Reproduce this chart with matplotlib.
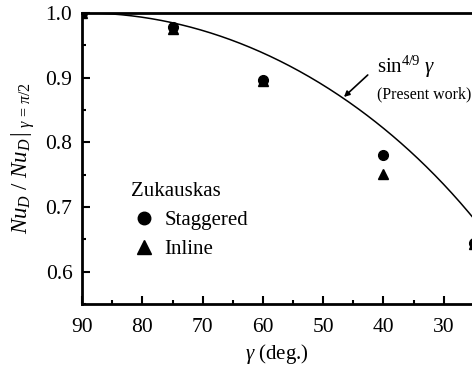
import numpy as np
import matplotlib
matplotlib.use("Agg")
import matplotlib.pyplot as plt
from matplotlib.ticker import MultipleLocator
from matplotlib.lines import Line2D

plt.rcParams.update({
    "font.family": "serif",
    "font.serif": ["Liberation Serif", "DejaVu Serif"],
    "mathtext.fontset": "custom",
    "mathtext.rm": "Liberation Serif",
    "mathtext.it": "Liberation Serif:italic",
    "mathtext.bf": "Liberation Serif:bold",
})

# Zukauskas data
gamma_pts = [90, 75, 60, 40, 25]
staggered = [1.0, 0.978, 0.896, 0.780, 0.645]
inline = [1.0, 0.975, 0.894, 0.751, 0.642]

# present work curve: sin^(4/9) gamma
gamma_curve = np.linspace(90, 20, 300)
nu_curve = np.sin(np.radians(gamma_curve)) ** (4.0 / 9.0)

fig = plt.figure(figsize=(4.72, 3.68), dpi=100)
ax = fig.add_axes([0.174, 0.174, 0.826, 0.791])

ax.plot(gamma_curve, nu_curve, color="black", linewidth=1.1, zorder=2)
ax.plot(gamma_pts, staggered, "o", color="black", markersize=7, zorder=3)
ax.plot(gamma_pts, inline, "^", color="black", markersize=7.5, zorder=3)

ax.set_xlim(90, 25.3)
ax.set_ylim(0.55, 1.0)
ax.xaxis.set_major_locator(MultipleLocator(10))
ax.xaxis.set_minor_locator(MultipleLocator(5))
ax.yaxis.set_major_locator(MultipleLocator(0.1))
ax.yaxis.set_minor_locator(MultipleLocator(0.05))
ax.yaxis.set_major_formatter(plt.FormatStrFormatter("%.1f"))
ax.tick_params(which="both", direction="in", labelsize=15.5, width=1.5)
ax.tick_params(which="major", length=6)
ax.tick_params(which="minor", length=3)
ax.tick_params(axis="x", pad=10)
ax.tick_params(axis="y", pad=7)

for s in ["left", "bottom", "top"]:
    ax.spines[s].set_linewidth(2.0)
ax.spines["right"].set_visible(False)

ax.set_xlabel(r"$\gamma$ (deg.)", fontsize=15, labelpad=4)
ax.set_ylabel(r"$Nu_D\ /\ Nu_D\,|_{\ \gamma\,=\,\pi/2}$", fontsize=16.5, labelpad=6)

ax.annotate("", xy=(46.55, 0.870), xytext=(42.6, 0.904),
            arrowprops=dict(arrowstyle="-|>", color="black", lw=1.2,
                            mutation_scale=8, shrinkA=0, shrinkB=0))
ax.text(41.1, 0.916, r"sin$^{4/9}$ $\gamma$", fontsize=15, va="center", ha="left")
ax.text(41.1, 0.874, "(Present work)", fontsize=11.5, va="center", ha="left")

handles = [
    Line2D([], [], marker="o", color="black", linestyle="none", markersize=9),
    Line2D([], [], marker="^", color="black", linestyle="none", markersize=10),
]
leg = ax.legend(handles, ["Staggered", "Inline"], title="Zukauskas",
                loc="upper left", bbox_to_anchor=(0.105, 0.446), frameon=False,
                fontsize=15, title_fontsize=15, handletextpad=0.4,
                handlelength=1.2, labelspacing=0.45, borderaxespad=0)
leg._legend_box.align = "left"

fig.savefig("out.png", dpi=100)
